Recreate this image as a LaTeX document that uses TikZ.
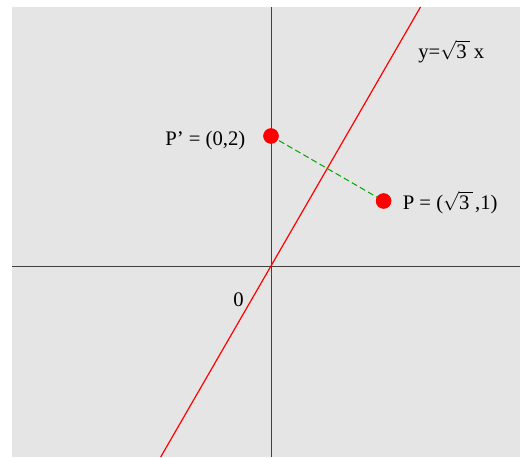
\documentclass[tikz,border=0pt]{standalone}
\usepackage{fontspec}
\setmainfont{Liberation Serif}
\newcommand\rootthree{$\sqrt{\mbox{3}\,}$}
\begin{document}
\begin{tikzpicture}[x=0.75pt,y=-0.75pt,
  axisline/.style={line width=0.75pt,draw=black!75},
  lbl/.style={inner sep=0pt,font=\fontsize{15.5}{18}\selectfont},
  dot/.style={circle,fill=red,minimum size=11.5pt,inner sep=0pt}]
\useasboundingbox (0,0) rectangle (520,457);
\fill[black!10] (12,7) rectangle (520,457);
\coordinate (O) at (271,266);
\coordinate (xl) at (12,266);
\coordinate (xr) at (520,266);
\coordinate (yt) at (271,7);
\coordinate (yb) at (271,457);
\coordinate (lt) at (420.5,7);
\coordinate (lb) at (160.7,457);
\draw[axisline] (xl) -- (xr);
\draw[axisline] (yt) -- (yb);
\draw[red,line width=0.9pt] (lb) -- (lt);
\node[dot] (Pp) at (271,136) {};
\node[dot] (P) at (383.6,201) {};
\draw[green!65!black,line width=0.75pt,dash pattern=on 4.5pt off 2.5pt] (Pp.center) -- (P.center);
\fill[red] (Pp) circle (5.75pt);
\fill[red] (P) circle (5.75pt);
\node[lbl,anchor=base east] (lPp) at (245.5,145) {P’ = (0,2)};
\node[lbl,anchor=base west] (lP) at (402.5,209) {P = (\rootthree\kern0.12em,1)};
\node[lbl,anchor=base west] (leq) at (418,58) {y=\rootthree\kern0.2em x};
\node[lbl,anchor=base] (l0) at (238.5,306) {0};
\end{tikzpicture}
\end{document}
